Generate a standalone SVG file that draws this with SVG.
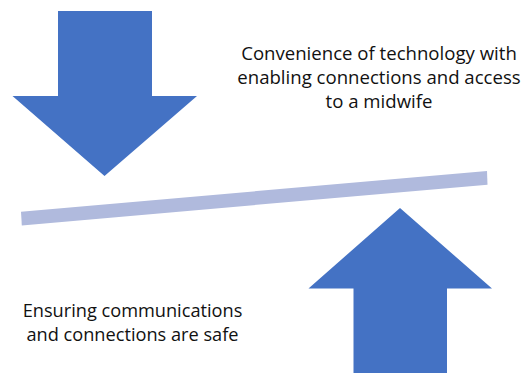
<svg xmlns="http://www.w3.org/2000/svg" width="521" height="373" viewBox="0 0 521 373">
  <style>
    .arrow { fill: #4472C4; }
    .beam { fill: #B0BADD; }
    .label { font-family: "Open Sans", "Liberation Sans", sans-serif; font-size: 18.6px; fill: #111111; text-anchor: middle; }
  </style>
  <rect width="521" height="373" fill="#FFFFFF"/>

  <!-- downward pressure arrow -->
  <g id="arrow-down">
    <polygon class="arrow" points="58,11 152,11 152,96 197,96 104.5,176 12.5,96 58,96"/>
  </g>

  <!-- tilted balance beam -->
  <g id="beam">
    <polygon class="beam" points="21,211.7 487,171 487.5,184.7 21.8,225.4"/>
  </g>

  <!-- upward pressure arrow -->
  <g id="arrow-up">
    <polygon class="arrow" points="400,208 492,288.5 447,288.5 447,373 353.5,373 353.5,288.5 308.5,288.5"/>
  </g>

  <g id="label-top">
    <text class="label" x="379" y="59.5">Convenience of technology with</text>
    <text class="label" x="379" y="83.5">enabling connections and access</text>
    <text class="label" x="379" y="107.5">to a midwife</text>
  </g>

  <g id="label-bottom">
    <text class="label" x="132.5" y="317" style="font-size:18.2px">Ensuring communications</text>
    <text class="label" x="132.5" y="341" style="font-size:18.2px">and connections are safe</text>
  </g>
</svg>
